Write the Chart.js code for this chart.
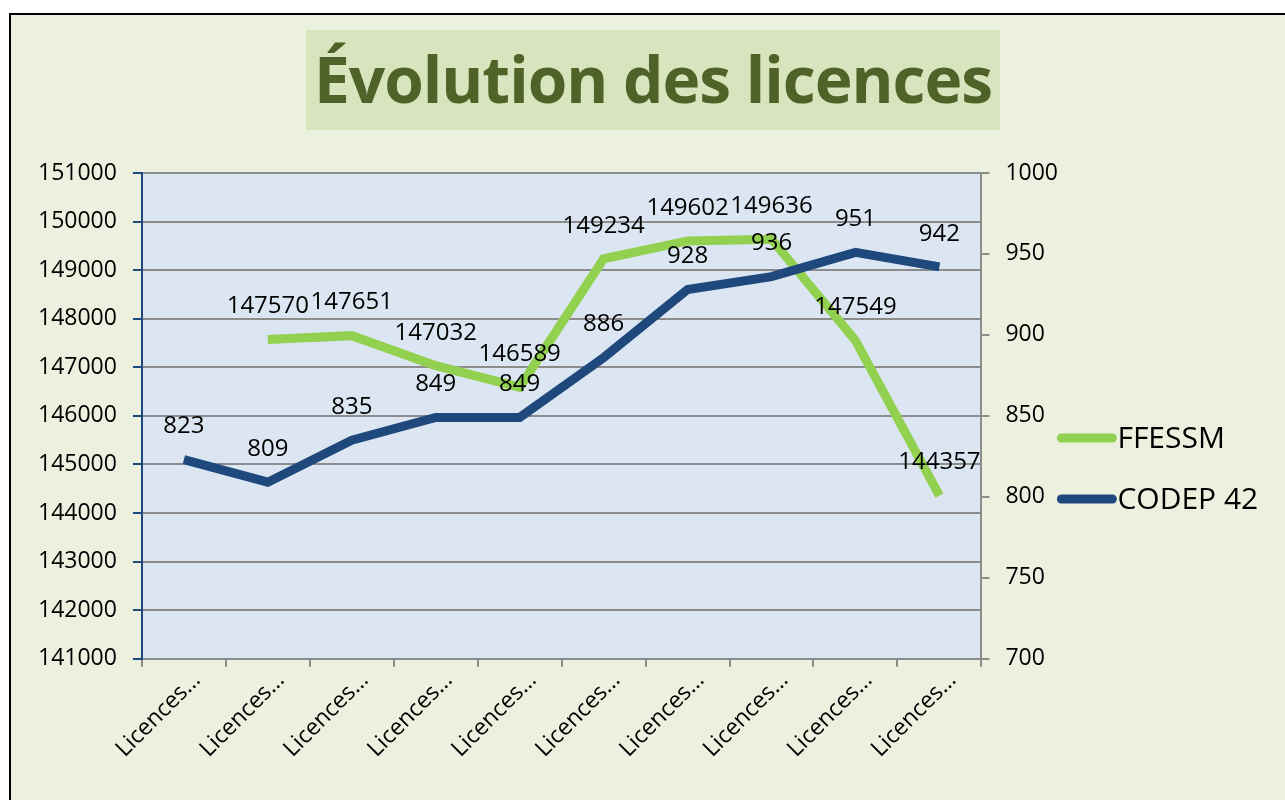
<!DOCTYPE html>
<html lang="fr">
<head>
<meta charset="utf-8">
<title>Évolution des licences</title>
<script src="https://cdn.jsdelivr.net/npm/chart.js@4.4.1/dist/chart.umd.min.js"></script>
<style>
    html, body { margin: 0; padding: 0; background: #ffffff; overflow: hidden; }
    #frame { position: absolute; left: 9px; top: 13px; width: 1300px; height: 820px; border: 2px solid #000; background: #ebf1de; }
    #title { position: absolute; left: 306px; top: 30px; width: 694px; height: 100px; background: #d7e4bd;
             color: #4f6228; font: bold 64px "Open Sans", sans-serif; text-align: center; line-height: 98px;
             white-space: nowrap; overflow: hidden; letter-spacing: -1px; }
    #wrap { position: absolute; left: 0; top: 0; width: 1285px; height: 800px; }
</style>
</head>
<body>
<div id="frame"></div>
<div id="title">Évolution des licences</div>
<div id="wrap"><canvas id="licenceChart"></canvas></div>

<script>
    // Data
    const categories = ["Licences…", "Licences…", "Licences…", "Licences…", "Licences…",
                        "Licences…", "Licences…", "Licences…", "Licences…", "Licences…"];
    const ffessm = [null, 147570, 147651, 147032, 146589, 149234, 149602, 149636, 147549, 144357];
    const codep42 = [823, 809, 835, 849, 849, 886, 928, 936, 951, 942];
    const seriesNames = ["FFESSM", "CODEP 42"];
    const leftAxisRange = [141000, 151000];
    const leftAxisStep = 1000;
    const rightAxisRange = [700, 1000];
    const rightAxisStep = 50;

    const green = "#92d050";
    const blue = "#1f497d";
    const grey = "#8c8c8c";

    Chart.defaults.font.family = "'Open Sans', sans-serif";
    Chart.defaults.color = "#000";

    // light blue plot area
    const plotBackground = {
        id: "plotBackground",
        beforeDraw(chart) {
            const a = chart.chartArea;
            chart.ctx.save();
            chart.ctx.fillStyle = "#dce6f2";
            chart.ctx.fillRect(a.left, a.top, a.right - a.left, a.bottom - a.top);
            chart.ctx.restore();
        }
    };

    // value written above each point
    const valueLabels = {
        id: "valueLabels",
        afterDatasetsDraw(chart) {
            const ctx = chart.ctx;
            ctx.save();
            ctx.font = "24px 'Open Sans', sans-serif";
            ctx.fillStyle = "#000";
            ctx.textAlign = "center";
            ctx.textBaseline = "middle";
            chart.data.datasets.forEach((ds, i) => {
                chart.getDatasetMeta(i).data.forEach((pt, j) => {
                    if (ds.data[j] === null) return;
                    ctx.fillText(ds.data[j], pt.x, pt.y - 33);
                });
            });
            ctx.restore();
        }
    };

    // legend to the right of the right axis
    const sideLegend = {
        id: "sideLegend",
        afterDraw(chart) {
            const ctx = chart.ctx;
            const x = chart.chartArea.right + 80;
            ctx.save();
            ctx.font = "30px 'Open Sans', sans-serif";
            ctx.textBaseline = "middle";
            ctx.fillStyle = "#000";
            chart.data.datasets.forEach((ds, i) => {
                const y = 438 + i * 61;
                ctx.strokeStyle = ds.borderColor;
                ctx.lineWidth = 9;
                ctx.lineCap = "round";
                ctx.beginPath();
                ctx.moveTo(x, y);
                ctx.lineTo(x + 51, y);
                ctx.stroke();
                ctx.fillText(ds.label, x + 56, y + 1);
            });
            ctx.restore();
        }
    };

    const plainNumber = value => String(value);

    new Chart(document.getElementById("licenceChart"), {
        type: "line",
        data: {
            labels: categories,
            datasets: [{
                label: seriesNames[0],
                data: ffessm,
                yAxisID: "y",
                borderColor: green,
                backgroundColor: green,
                borderWidth: 9,
                borderCapStyle: "butt",
                borderJoinStyle: "miter",
                pointRadius: 0,
                tension: 0,
                order: 1
            }, {
                label: seriesNames[1],
                data: codep42,
                yAxisID: "y1",
                borderColor: blue,
                backgroundColor: blue,
                borderWidth: 9,
                borderCapStyle: "butt",
                borderJoinStyle: "miter",
                pointRadius: 0,
                tension: 0,
                order: 0
            }]
        },
        options: {
            responsive: true,
            maintainAspectRatio: false,
            animation: false,
            layout: { padding: { left: 22, right: 211, top: 173, bottom: 37 } },
            plugins: {
                legend: { display: false },
                title: { display: false },
                tooltip: { enabled: false }
            },
            scales: {
                x: {
                    offset: true,
                    grid: { offset: true, drawOnChartArea: false, color: grey, lineWidth: 2, tickLength: 8 },
                    border: { color: grey, width: 2 },
                    ticks: { font: { size: 23 }, maxRotation: 45, minRotation: 45, padding: 0, labelOffset: 13 }
                },
                y: {
                    position: "left",
                    min: leftAxisRange[0],
                    max: leftAxisRange[1],
                    grid: { color: grey, lineWidth: 2, tickLength: 9, tickColor: blue, tickWidth: 2 },
                    border: { color: blue, width: 2 },
                    ticks: { stepSize: leftAxisStep, font: { size: 23 }, padding: 16, callback: plainNumber }
                },
                y1: {
                    position: "right",
                    min: rightAxisRange[0],
                    max: rightAxisRange[1],
                    grid: { drawOnChartArea: false, color: grey, lineWidth: 2, tickLength: 8 },
                    border: { color: grey, width: 2 },
                    ticks: { stepSize: rightAxisStep, font: { size: 23 }, padding: 16, callback: plainNumber }
                }
            }
        },
        plugins: [plotBackground, valueLabels, sideLegend]
    });
</script>
</body>
</html>
